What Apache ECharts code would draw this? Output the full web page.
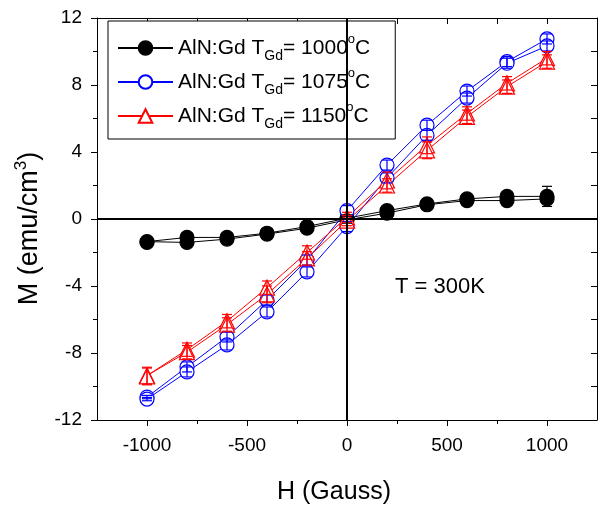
<!DOCTYPE html>
<html>
<head>
<meta charset="utf-8">
<script src="https://cdn.jsdelivr.net/npm/echarts@6/dist/echarts.min.js"></script>
<style>
  html, body { margin: 0; padding: 0; background: #fff; }
  #chart { width: 603px; height: 510px; }
</style>
</head>
<body>
<div id="chart"></div>
<script>
// field sweep: down branch then back up
const hDown = [1000, 800, 600, 400, 200, 0, -200, -400, -600, -800, -1000];
const hUp = [-1000, -800, -600, -400, -200, 0, 200, 400, 600, 800, 1000];

const tempNames = ['1000', '1075', '1150'];

// M (emu/cm3)
const m1000Down = [1.35, 1.35, 1.2, 0.9, 0.5, 0.05, -0.45, -0.85, -1.1, -1.1, -1.35];
const m1000Up = [-1.4, -1.4, -1.2, -0.9, -0.55, -0.05, 0.35, 0.85, 1.1, 1.1, 1.2];
const m1075Down = [10.75, 9.4, 7.64, 5.6, 3.22, 0.5, -2.45, -4.84, -7.04, -8.83, -10.63];
const m1075Up = [-10.75, -9.13, -7.52, -5.55, -3.16, -0.45, 2.45, 5.0, 7.22, 9.3, 10.33];
const m1150Down = [9.6, 8.1, 6.3, 4.4, 2.3, 0.1, -2.0, -4.1, -6.1, -7.8, -9.35];
const m1150Up = [-9.4, -7.95, -6.3, -4.5, -2.35, -0.1, 2.0, 4.1, 6.1, 7.9, 9.4];

// error bars (half width)
const e1000Down = [0.6, 0.15, 0.1, 0.1, 0.1, 0.2, 0.1, 0.1, 0.1, 0.2, 0.1];
const e1000Up = [0.1, 0.2, 0.1, 0.1, 0.1, 0.2, 0.1, 0.1, 0.1, 0.15, 0.1];
const e1075Down = [0.3, 0.3, 0.3, 0.3, 0.3, 0.3, 0.3, 0.3, 0.3, 0.3, 0.1];
const e1075Up = [0.1, 0.3, 0.3, 0.3, 0.3, 0.3, 0.3, 0.3, 0.3, 0.3, 0.3];
const e1150Down = [0.4, 0.4, 0.4, 0.5, 0.5, 0.3, 0.4, 0.4, 0.4, 0.4, 0.5];
const e1150Up = [0.5, 0.4, 0.4, 0.5, 0.4, 0.3, 0.4, 0.5, 0.4, 0.4, 0.4];

const majorTicksX = [-1000, -500, 0, 500, 1000];
const minorTicksX = [-750, -250, 250, 750];

const FONT = '"Liberation Sans", Arial, sans-serif';

const loop = (down, up) => hDown.map((h, i) => [h, down[i]]).concat(hUp.map((h, i) => [h, up[i]]));
const errLoop = (down, up, eDown, eUp) =>
    hDown.map((h, i) => [h, down[i], eDown[i]]).concat(hUp.map((h, i) => [h, up[i], eUp[i]]));

const sets = [
    { name: tempNames[0], color: '#000', symbol: 'circle', fill: '#000', size: 14,
      data: loop(m1000Down, m1000Up), err: errLoop(m1000Down, m1000Up, e1000Down, e1000Up) },
    { name: tempNames[1], color: '#0000ff', symbol: 'circle', fill: '#fff', size: 14,
      data: loop(m1075Down, m1075Up), err: errLoop(m1075Down, m1075Up, e1075Down, e1075Up) },
    { name: tempNames[2], color: '#ff0000', symbol: 'triangle', fill: '#fff', size: 15,
      data: loop(m1150Down, m1150Up), err: errLoop(m1150Down, m1150Up, e1150Down, e1150Up) }
];

const errorBar = (color) => (params, api) => {
    const x = api.value(0), y = api.value(1), e = api.value(2);
    const top = api.coord([x, y + e]);
    const bot = api.coord([x, y - e]);
    const w = 5;
    const style = { stroke: color, lineWidth: 1.2 };
    return {
        type: 'group',
        children: [
            { type: 'line', shape: { x1: top[0], y1: top[1], x2: bot[0], y2: bot[1] }, style },
            { type: 'line', shape: { x1: top[0] - w, y1: top[1], x2: top[0] + w, y2: top[1] }, style },
            { type: 'line', shape: { x1: bot[0] - w, y1: bot[1], x2: bot[0] + w, y2: bot[1] }, style }
        ]
    };
};

const series = [];
sets.forEach((s) => {
    series.push({
        name: s.name,
        type: 'line',
        data: s.data,
        symbol: s.symbol,
        symbolSize: s.size,
        color: s.color,
        lineStyle: { color: s.color, width: 1 },
        itemStyle: { color: s.fill, borderColor: s.color, borderWidth: 1.2 },
        animation: false,
        z: 3
    });
    series.push({
        type: 'custom',
        renderItem: errorBar(s.color),
        data: s.err,
        encode: { x: 0, y: 1 },
        animation: false,
        silent: true,
        z: 4
    });
});
// zero lines through the origin
series.push({
    type: 'line',
    data: [],
    silent: true,
    markLine: {
        silent: true,
        symbol: 'none',
        label: { show: false },
        lineStyle: { color: '#000', width: 2, type: 'solid' },
        data: [{ xAxis: 0 }, { yAxis: 0 }]
    },
    z: 1
});

const option = {
    backgroundColor: '#fff',
    animation: false,
    textStyle: { fontFamily: FONT },
    grid: { left: 97, right: 6, top: 18, bottom: 90 },
    legend: {
        data: tempNames,
        left: 108,
        top: 21,
        orient: 'vertical',
        itemWidth: 55,
        itemHeight: 17,
        itemGap: 4,
        padding: [12, 25, 8, 9],
        borderColor: '#000',
        borderWidth: 1,
        backgroundColor: '#fff',
        formatter: (name) => '{t|AlN:Gd T}{sub|Gd}{t|= ' + name + '}{sup|o}{t|C}',
        textStyle: {
            rich: {
                t: { fontSize: 21, color: '#000', lineHeight: 30, fontFamily: FONT },
                sub: { fontSize: 14, color: '#000', lineHeight: 14, verticalAlign: 'bottom', fontFamily: FONT },
                sup: { fontSize: 13, color: '#000', lineHeight: 20, verticalAlign: 'top', fontFamily: FONT }
            }
        }
    },
    xAxis: [
        {
            type: 'value',
            position: 'bottom',
            min: -1250,
            max: 1250,
            interval: 250,
            name: 'H (Gauss)',
            nameLocation: 'middle',
            nameGap: 60,
            nameTextStyle: { fontSize: 25, color: '#000', fontFamily: FONT, padding: [0, 26, 0, 0] },
            axisLine: { show: true, onZero: false, lineStyle: { color: '#000', width: 1 } },
            axisTick: { show: true, customValues: majorTicksX, length: 6, lineStyle: { color: '#000' } },
            axisLabel: {
                customValues: majorTicksX, fontSize: 19, color: '#000', margin: 16, fontFamily: FONT,
                formatter: (v) => String(v)
            },
            splitLine: { show: false }
        },
        {
            type: 'value',
            position: 'bottom',
            min: -1250,
            max: 1250,
            interval: 250,
            axisLine: { show: false, onZero: false },
            axisTick: { show: true, customValues: minorTicksX, length: 4, lineStyle: { color: '#000' } },
            axisLabel: { show: false },
            splitLine: { show: false }
        },
        {
            type: 'value',
            position: 'top',
            min: -1250,
            max: 1250,
            interval: 250,
            axisLine: { show: true, onZero: false, lineStyle: { color: '#000', width: 1 } },
            axisTick: { show: true, inside: true, length: 6, lineStyle: { color: '#000' } },
            axisLabel: { show: false },
            splitLine: { show: false }
        }
    ],
    yAxis: [
        {
            type: 'value',
            position: 'left',
            min: -12,
            max: 12,
            interval: 4,
            name: '{t|M (emu/cm}{sup|3}{t|)}',
            nameLocation: 'middle',
            nameGap: 50,
            nameTextStyle: {
                padding: [0, 19, 0, 0],
                rich: {
                    t: { fontSize: 27, color: '#000', fontFamily: FONT, lineHeight: 34 },
                    sup: { fontSize: 17, color: '#000', fontFamily: FONT, lineHeight: 22, verticalAlign: 'top' }
                }
            },
            axisLine: { show: true, onZero: false, lineStyle: { color: '#000', width: 1 } },
            axisTick: { show: true, length: 6, lineStyle: { color: '#000' } },
            minorTick: { show: true, splitNumber: 2, length: 4, lineStyle: { color: '#000' } },
            axisLabel: { fontSize: 19, color: '#000', margin: 15, fontFamily: FONT },
            splitLine: { show: false }
        },
        {
            type: 'value',
            position: 'right',
            min: -12,
            max: 12,
            interval: 2,
            axisLine: { show: true, onZero: false, lineStyle: { color: '#000', width: 1 } },
            axisTick: { show: true, inside: true, length: 6, lineStyle: { color: '#000' } },
            axisLabel: { show: false },
            splitLine: { show: false }
        }
    ],
    graphic: [
        {
            type: 'text',
            left: 395,
            top: 276,
            style: { text: 'T = 300K', fontSize: 22, fill: '#000', fontFamily: FONT }
        }
    ],
    series: series
};

const chart = echarts.init(document.getElementById('chart'));
chart.setOption(option);
window.addEventListener('resize', () => chart.resize());
</script>
</body>
</html>
